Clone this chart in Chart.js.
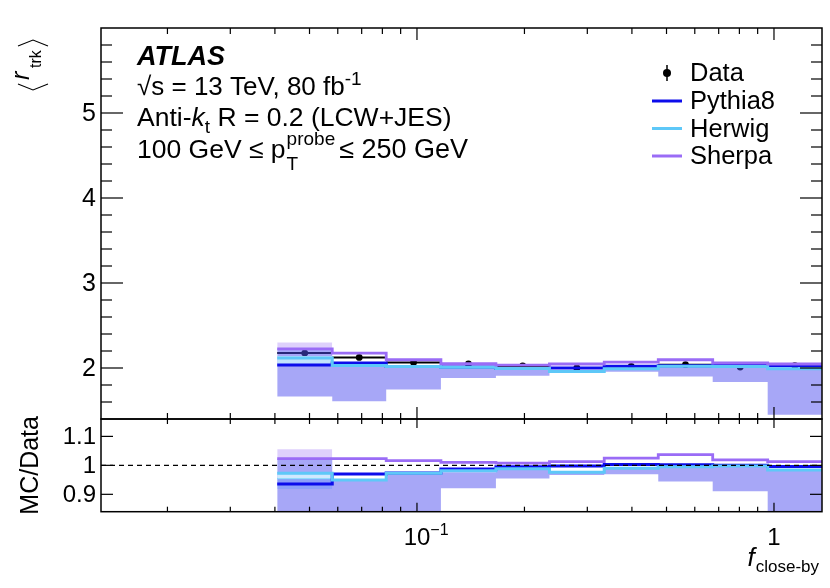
<!DOCTYPE html>
<html>
<head>
<meta charset="utf-8">
<script src="https://cdn.jsdelivr.net/npm/chart.js@4.4.1/dist/chart.umd.min.js"></script>
<style>
  body { margin: 0; background: #fff; width: 830px; height: 588px; position: relative; overflow: hidden; }
  canvas { position: absolute; left: 0; }
  #topPad { top: 0; }
  #ratioPad { top: 415px; }
</style>
</head>
<body>
<canvas id="topPad" width="830" height="425"></canvas>
<canvas id="ratioPad" width="830" height="173"></canvas>
<script>
// bin edges of f_close-by (log binning)
const edges = [0.0406, 0.0579, 0.0820, 0.1167, 0.1664, 0.2350, 0.3346, 0.4741, 0.6735, 0.9602, 1.363];

// upper pad: <r_trk>
const dataVals   = [2.176, 2.124, 2.066, 2.047, 2.025, 2.000, 2.019, 2.039, 2.012, 2.027];
const pythiaVals = [2.035, 2.059, 2.018, 2.012, 1.995, 2.000, 2.020, 2.027, 2.030, 2.027];
const herwigVals = [2.117, 2.030, 2.018, 2.008, 1.995, 1.960, 1.990, 2.022, 2.018, 1.990];
const sherpaVals = [2.226, 2.176, 2.097, 2.050, 2.035, 2.047, 2.070, 2.097, 2.059, 2.047];
const systHigh   = [2.226, 2.025, 2.012, 2.000, 1.990, 1.955, 1.985, 2.015, 2.005, 1.985];
const systLow    = [1.664, 1.609, 1.746, 1.883, 1.910, 1.940, 1.955, 1.900, 1.836, 1.450];
const sherpaBandHigh = [2.300, null, null, null, null, null, null, null, null, null];
const sherpaBandLow  = [2.226, null, null, null, null, null, null, null, null, null];
const herwigBandHigh = [2.140, null, null, null, null, null, null, null, null, null];
const herwigBandLow  = [2.040, null, null, null, null, null, null, null, null, null];

// lower pad: MC/Data
const ratioPythia = [0.936, 0.970, 0.974, 0.987, 0.995, 0.998, 1.003, 1.002, 1.000, 0.996];
const ratioHerwig = [0.973, 0.949, 0.973, 0.981, 0.988, 0.976, 0.990, 0.995, 0.998, 0.984];
const ratioSherpa = [1.023, 1.023, 1.016, 1.010, 1.008, 1.013, 1.025, 1.037, 1.019, 1.013];
const ratioSystHigh = [1.023, 0.947, 0.970, 0.976, 0.986, 0.975, 0.988, 0.995, 0.997, 0.983];
const ratioSystLow  = [0.800, 0.800, 0.800, 0.921, 0.955, 0.967, 0.969, 0.944, 0.911, 0.800];
const rSherpaBandHigh = [1.056, null, null, null, null, null, null, null, null, null];
const rSherpaBandLow  = [1.023, null, null, null, null, null, null, null, null, null];
const rHerwigBandHigh = [0.973, null, null, null, null, null, null, null, null, null];
const rHerwigBandLow  = [0.955, null, null, null, null, null, null, null, null, null];
const rPythiaBandHigh = [0.952, null, null, null, null, null, null, null, null, null];
const rPythiaBandLow  = [0.918, null, null, null, null, null, null, null, null, null];

// axis ticks
const xMajor = [0.1, 1];
const xMinor = [0.02, 0.03, 0.04, 0.05, 0.06, 0.07, 0.08, 0.09, 0.2, 0.3, 0.4, 0.5, 0.6, 0.7, 0.8, 0.9];
const yMajor = [2, 3, 4, 5];
const yMinor = [1.4, 1.6, 1.8, 2.2, 2.4, 2.6, 2.8, 3.2, 3.4, 3.6, 3.8, 4.2, 4.4, 4.6, 4.8, 5.2, 5.4, 5.6, 5.8];
const rMajor = [0.9, 1, 1.1];
const xRange = [0.01303, 1.363];

const C_PYTHIA = '#0c0ceb';
const C_HERWIG = '#5ec8f8';
const C_SHERPA = '#9a6cf6';
const C_SYST = 'rgba(80, 80, 240, 0.5)';
const FONT = '"Liberation Sans", Arial, Helvetica, sans-serif';

// turn per-bin values into step points
function histPoints(vals) {
  const pts = [];
  vals.forEach((v, i) => {
    if (v === null) { pts.push({x: edges[i], y: null}); return; }
    pts.push({x: edges[i], y: v}, {x: edges[i + 1], y: v});
  });
  return pts;
}

// horizontal error bars, one separate segment per bin
function xErrPoints(vals) {
  const pts = [];
  vals.forEach((v, i) => {
    pts.push({x: edges[i], y: v}, {x: edges[i + 1], y: v}, {x: edges[i + 1], y: null});
  });
  return pts;
}

function centers(vals) {
  return vals.map((v, i) => ({x: Math.sqrt(edges[i] * edges[i + 1]), y: v}));
}

function line(vals, color, width, order) {
  return {data: histPoints(vals), borderColor: color, borderWidth: width, pointRadius: 0, fill: false, order: order};
}

// band = upper edge filled down to the next dataset
function band(high, low, color, order, edgeColor) {
  return [
    {data: histPoints(high), borderWidth: 0, pointRadius: 0, backgroundColor: color, fill: '+1', order: order},
    {data: histPoints(low), borderWidth: edgeColor ? 1.5 : 0, borderColor: edgeColor || 'transparent', pointRadius: 0, fill: false, order: order}
  ];
}

function tickLine(ctx, x1, y1, x2, y2) {
  ctx.beginPath(); ctx.moveTo(x1, y1); ctx.lineTo(x2, y2); ctx.stroke();
}

function rich(ctx, x, y, parts) {
  parts.forEach(p => {
    ctx.font = p.font;
    ctx.fillText(p.t, x, y + (p.dy || 0));
    x += ctx.measureText(p.t).width;
  });
  return x;
}

// frame + inward ticks, ROOT style
function frame(o) {
  return {
    id: 'frame',
    afterDraw(chart) {
      const {ctx, chartArea: a, scales: {x, y}} = chart;
      ctx.save();
      ctx.strokeStyle = '#000';
      ctx.lineWidth = 1.2;
      const xt = (vals, top, bot) => vals.forEach(v => {
        const px = x.getPixelForValue(v);
        if (px <= a.left || px >= a.right) return;
        tickLine(ctx, px, a.top, px, a.top + top);
        tickLine(ctx, px, a.bottom, px, a.bottom - bot);
      });
      xt(xMajor, o.xMajTop, o.xMajBot);
      xt(xMinor, o.xMinTop, o.xMinBot);
      const yt = (vals, len) => vals.forEach(v => {
        const py = y.getPixelForValue(v);
        if (py <= a.top + 0.5 || py >= a.bottom - 0.5) return;
        tickLine(ctx, a.left, py, a.left + len, py);
        tickLine(ctx, a.right, py, a.right - len, py);
      });
      yt(o.yMajor, o.yMajLen);
      yt(o.yMinor, o.yMinLen);
      ctx.lineWidth = 1.5;
      ctx.strokeRect(a.left, a.top, a.right - a.left, a.bottom - a.top);

      ctx.fillStyle = '#000';
      ctx.font = o.yFont + 'px ' + FONT;
      ctx.textAlign = 'right';
      ctx.textBaseline = 'middle';
      o.yMajor.forEach(v => ctx.fillText(String(v), a.left - 5, y.getPixelForValue(v) + 1));
      ctx.textAlign = 'left';
      ctx.textBaseline = 'alphabetic';
      if (o.extra) o.extra(chart, ctx, a, x, y);
      ctx.restore();
    }
  };
}

function topExtra(chart, ctx, a, x, y) {
  // ATLAS label and selection
  const tx = 137;
  const big = '26.5px ' + FONT;
  const small = '19px ' + FONT;
  rich(ctx, tx, 65, [{t: 'ATLAS', font: 'italic bold 27px ' + FONT}]);
  let cx = rich(ctx, tx, 95, [{t: '\u221As = 13 TeV, 80 fb', font: '26px ' + FONT}]);
  rich(ctx, cx, 85, [{t: '-1', font: small}]);
  rich(ctx, tx, 126, [
    {t: 'Anti-', font: big},
    {t: 'k', font: 'italic ' + big},
    {t: 't', font: small, dy: 7},
    {t: ' R = 0.2 (LCW+JES)', font: big}
  ]);
  cx = rich(ctx, tx, 158, [{t: '100 GeV \u2264 p', font: big}]);
  ctx.font = small;
  const wp = ctx.measureText('probe').width;
  ctx.fillText('probe', cx + 1, 145);
  ctx.fillText('T', cx + 1, 170);
  rich(ctx, cx + wp + 5, 158, [{t: '\u2264 250 GeV', font: '27px ' + FONT}]);

  // legend
  const lx = 690;
  const rows = [['Data', 73], ['Pythia8', 101], ['Herwig', 128.5], ['Sherpa', 156]];
  const cols = [null, C_PYTHIA, C_HERWIG, C_SHERPA];
  ctx.textBaseline = 'middle';
  rows.forEach(([name, ry], i) => {
    if (i === 0) {
      ctx.beginPath(); ctx.arc(667, ry, 4, 0, 2 * Math.PI); ctx.fill();
      ctx.lineWidth = 1.5; tickLine(ctx, 667, ry - 8, 667, ry + 8);
    } else {
      ctx.strokeStyle = cols[i]; ctx.lineWidth = 3;
      tickLine(ctx, 652, ry, 682, ry);
    }
    ctx.font = '25.5px ' + FONT;
    ctx.fillText(name, lx, ry + 1);
  });
  ctx.textBaseline = 'alphabetic';

  // y title <r_trk>, rotated
  ctx.save();
  ctx.translate(29, 90);
  ctx.rotate(-Math.PI / 2);
  ctx.strokeStyle = '#000'; ctx.lineWidth = 1.1;
  ctx.beginPath(); ctx.moveTo(6, -11); ctx.lineTo(0, 4); ctx.lineTo(6, 19); ctx.stroke();
  rich(ctx, 10, 0, [{t: 'r', font: 'italic 25px ' + FONT}]);
  rich(ctx, 22, 12, [{t: 'trk', font: '16px ' + FONT}]);
  ctx.beginPath(); ctx.moveTo(44, -11); ctx.lineTo(50, 4); ctx.lineTo(44, 19); ctx.stroke();
  ctx.restore();
}

function ratioExtra(chart, ctx, a, x, y) {
  ctx.font = '24px ' + FONT;
  ctx.textAlign = 'center';
  const by = a.bottom + 33;
  const p1 = x.getPixelForValue(0.1);
  ctx.fillText('10', p1, by);
  const w10 = ctx.measureText('10').width;
  ctx.textAlign = 'left';
  ctx.font = '16px ' + FONT;
  ctx.fillText('\u22121', p1 + w10 / 2, by - 10);
  ctx.font = '24px ' + FONT;
  ctx.textAlign = 'center';
  ctx.fillText('1', x.getPixelForValue(1), by);
  ctx.textAlign = 'right';
  ctx.font = '17px ' + FONT;
  ctx.fillText('close-by', a.right - 3, a.bottom + 60);
  const ws = ctx.measureText('close-by').width;
  ctx.font = 'italic 26px ' + FONT;
  ctx.fillText('f', a.right - 3 - ws - 1, a.bottom + 54);

  ctx.save();
  ctx.translate(38, (a.top + a.bottom) / 2);
  ctx.rotate(-Math.PI / 2);
  ctx.textAlign = 'center';
  ctx.font = '25px ' + FONT;
  ctx.fillText('MC/Data', 0, 0);
  ctx.restore();
}

function makeChart(id, datasets, yMin, yMax, padding, frameOpts) {
  return new Chart(document.getElementById(id), {
    type: 'line',
    data: {datasets: datasets},
    options: {
      responsive: false,
      animation: false,
      layout: {padding: padding},
      plugins: {legend: {display: false}, tooltip: {enabled: false}},
      scales: {
        x: {type: 'logarithmic', min: xRange[0], max: xRange[1], display: false},
        y: {type: 'linear', min: yMin, max: yMax, display: false}
      }
    },
    plugins: [frame(frameOpts)]
  });
}

// nudge the padding so the plot area lands on the wanted canvas box
function fitArea(chart, box) {
  const a = chart.chartArea;
  const p = Object.assign({}, chart.options.layout.padding);
  p.left += box.left - a.left;
  p.top += box.top - a.top;
  p.right += a.right - box.right;
  p.bottom += a.bottom - box.bottom;
  chart.options.layout.padding = p;
  chart.update();
}

// later in the list = drawn further below (order: low value on top)
const topSets = [
  line(sherpaVals, C_SHERPA, 2.8, 0),
  line(herwigVals, C_HERWIG, 3, 1),
  line(pythiaVals, C_PYTHIA, 3, 2),
  ...band(herwigBandHigh, herwigBandLow, 'rgba(200, 238, 253, 0.85)', 3),
  ...band(sherpaBandHigh, sherpaBandLow, 'rgba(160, 120, 245, 0.35)', 4),
  ...band(systHigh, systLow, C_SYST, 5),
  {data: centers(dataVals), showLine: false, pointRadius: 3.4, pointBackgroundColor: '#000', pointBorderWidth: 0, order: 6},
  {data: xErrPoints(dataVals), borderColor: '#000', borderWidth: 2, pointRadius: 0, fill: false, order: 7}
];

const ratioSets = [
  {data: [{x: xRange[0], y: 1}, {x: xRange[1], y: 1}], borderColor: '#000', borderWidth: 1.2, borderDash: [5, 4], pointRadius: 0, fill: false, order: -1},
  line(ratioSherpa, C_SHERPA, 2.8, 0),
  line(ratioHerwig, C_HERWIG, 3, 1),
  line(ratioPythia, C_PYTHIA, 3, 2),
  ...band(rHerwigBandHigh, rHerwigBandLow, 'rgba(215, 243, 255, 0.85)', 3, C_HERWIG),
  ...band(rPythiaBandHigh, rPythiaBandLow, 'rgba(110, 150, 250, 0.45)', 3.5),
  ...band(rSherpaBandHigh, rSherpaBandLow, 'rgba(160, 120, 245, 0.35)', 4),
  ...band(ratioSystHigh, ratioSystLow, C_SYST, 5)
];

const topChart = makeChart('topPad', topSets, 1.4, 6.0, {left: 101, right: 8, top: 28, bottom: 6}, {
  xMajTop: 12, xMajBot: 12, xMinTop: 6, xMinBot: 6,
  yMajor: yMajor, yMinor: yMinor, yMajLen: 22, yMinLen: 11, yFont: 25,
  extra: topExtra
});
fitArea(topChart, {left: 101, right: 822, top: 28, bottom: 419});

// ratio canvas starts at page y = 415
const ratioChart = makeChart('ratioPad', ratioSets, 0.84, 1.16, {left: 101, right: 8, top: 4, bottom: 76}, {
  xMajTop: 9, xMajBot: 9, xMinTop: 5, xMinBot: 5,
  yMajor: rMajor, yMinor: [], yMajLen: 12, yMinLen: 0, yFont: 24,
  extra: ratioExtra
});
fitArea(ratioChart, {left: 101, right: 822, top: 4, bottom: 96.7});
</script>
</body>
</html>
